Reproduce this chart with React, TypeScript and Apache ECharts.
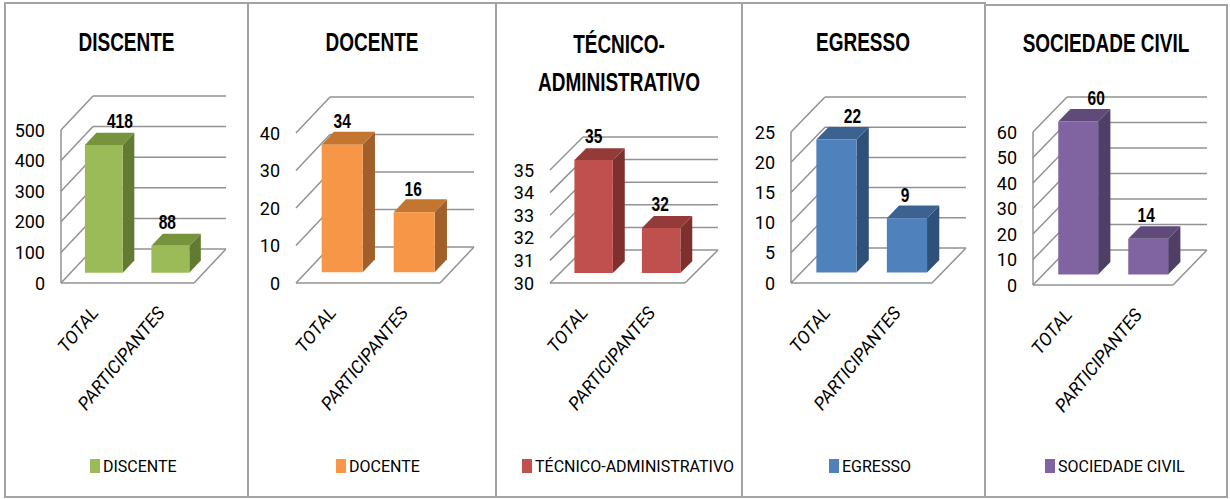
import React, { useEffect, useRef } from 'react';
import * as echarts from 'echarts';

const categories = ['TOTAL', 'PARTICIPANTES'];
const discenteValues = [418, 88];
const docenteValues = [34, 16];
const tecnicoValues = [35, 32];
const egressoValues = [22, 9];
const sociedadeValues = [60, 14];
const discenteTicks = [0, 100, 200, 300, 400, 500];
const docenteTicks = [0, 10, 20, 30, 40];
const tecnicoTicks = [30, 31, 32, 33, 34, 35];
const egressoTicks = [0, 5, 10, 15, 20, 25];
const sociedadeTicks = [0, 10, 20, 30, 40, 50, 60];

const FONT = "Roboto, 'Liberation Sans', sans-serif";
const BOLD_FONT = "'Liberation Sans', Arial, sans-serif";

const panels = [
  {
    name: 'DISCENTE', title: 'DISCENTE', values: discenteValues, ticks: discenteTicks,
    colors: { front: '#9bbb59', top: '#77933c', side: '#627a32' },
    box: [5, 248, 3], grid: { left: 61, width: 133, top: 130, height: 153 }, depth: [32, -34],
    wall: true, labelDx: [16, -3], legendX: 90, titleX: 126.5, titleY: 43,
  },
  {
    name: 'DOCENTE', title: 'DOCENTE', values: docenteValues, ticks: docenteTicks,
    colors: { front: '#f79646', top: '#c47631', side: '#a1602a' },
    box: [248, 496, 3], grid: { left: 296, width: 144, top: 133, height: 150 }, depth: [34, -36],
    wall: false, labelDx: [0, -1], legendX: 336, titleX: 372, titleY: 43,
  },
  {
    name: 'TÉCNICO-ADMINISTRATIVO', title: 'TÉCNICO-\nADMINISTRATIVO', values: tecnicoValues, ticks: tecnicoTicks,
    colors: { front: '#c0504d', top: '#943a38', side: '#7e302e' },
    box: [496, 742, 3], grid: { left: 550, width: 135, top: 170, height: 113 }, depth: [33, -33],
    wall: false, labelDx: [0, -1], legendX: 522, titleX: 619, titleY: 64,
  },
  {
    name: 'EGRESSO', title: 'EGRESSO', values: egressoValues, ticks: egressoTicks,
    colors: { front: '#4f81bd', top: '#3b6290', side: '#2f5078' },
    box: [742, 985, 3], grid: { left: 791, width: 141, top: 132, height: 151 }, depth: [34, -35],
    wall: true, labelDx: [16, -2], legendX: 829, titleX: 863, titleY: 43,
  },
  {
    name: 'SOCIEDADE CIVIL', title: 'SOCIEDADE CIVIL', values: sociedadeValues, ticks: sociedadeTicks,
    colors: { front: '#8064a2', top: '#5f4a79', side: '#4f3e66' },
    box: [985, 1227, 5], grid: { left: 1033, width: 140, top: 132, height: 153 }, depth: [34, -35],
    wall: true, labelDx: [18, -2], legendX: 1045, titleX: 1106, titleY: 44,
  },
];

const LINE = '#929292';

export default function App() {
  const ref = useRef<HTMLDivElement>(null);
  useEffect(() => {
    if (!ref.current) return;
    const chart = echarts.init(ref.current, null, { renderer: 'svg' });

    const grids: any[] = [];
    const xAxes: any[] = [];
    const yAxes: any[] = [];
    const series: any[] = [];
    const legends: any[] = [];
    const graphics: any[] = [];

    panels.forEach((p, k) => {
      const min = p.ticks[0];
      const max = p.ticks[p.ticks.length - 1];
      const interval = p.ticks[1] - p.ticks[0];
      const D = p.depth;
      grids.push({ left: p.grid.left, top: p.grid.top, width: p.grid.width, height: p.grid.height, containLabel: false });
      xAxes.push({
        type: 'category', gridIndex: k, data: categories, boundaryGap: true,
        axisLine: { show: false }, axisTick: { show: false }, splitLine: { show: false },
        axisLabel: { interval: 0, rotate: 51, margin: 26, fontSize: 18, fontStyle: 'italic', fontFamily: FONT, color: '#000' },
      });
      yAxes.push({
        type: 'value', gridIndex: k, min, max, interval,
        axisLine: { show: false }, axisTick: { show: false }, splitLine: { show: false },
        axisLabel: { margin: 16, fontSize: 18, fontFamily: FONT, color: '#000' },
      });
      // frame (walls, floor, gridlines)
      series.push({
        type: 'custom', name: p.name + '-frame', xAxisIndex: k, yAxisIndex: k, clip: false, silent: true,
        data: p.ticks.map((t) => [0, t]), encode: { x: 0, y: 1 }, z: 1,
        renderItem: (params: any, api: any) => {
          const t = api.value(1);
          const cs = params.coordSys;
          const y = api.coord([0, t])[1];
          const x0 = cs.x;
          const x1 = cs.x + cs.width;
          const st = { stroke: LINE, lineWidth: 1.5, fill: null };
          const children: any[] = [
            { type: 'line', shape: { x1: x0 + D[0], y1: y + D[1], x2: x1 + D[0], y2: y + D[1] }, style: st },
            { type: 'line', shape: { x1: x0, y1: y, x2: x0 + D[0], y2: y + D[1] }, style: st },
          ];
          if (t === min) {
            children.push({ type: 'line', shape: { x1: x0, y1: y, x2: x1, y2: y }, style: st });
            children.push({ type: 'line', shape: { x1: x1, y1: y, x2: x1 + D[0], y2: y + D[1] }, style: st });
          }
          if (t === max && p.wall) {
            children.push({ type: 'line', shape: { x1: x0, y1: y, x2: x0, y2: cs.y + cs.height }, style: st });
          }
          return { type: 'group', children };
        },
      });
      // 3D bars
      series.push({
        type: 'custom', name: p.name, xAxisIndex: k, yAxisIndex: k, clip: false, z: 2,
        itemStyle: { color: p.colors.front },
        data: p.values.map((v, i) => [i, v]), encode: { x: 0, y: 1 },
        renderItem: (params: any, api: any) => {
          const i = api.value(0);
          const v = api.value(1);
          const base = api.coord([i, min]);
          const top = api.coord([i, v]);
          const bw = api.size([1, 0])[0] * 0.57;
          const fx = D[0] * 0.3, fy = D[1] * 0.3;
          const dx = D[0] * 0.36, dy = D[1] * 0.36;
          const xl = base[0] - bw / 2 + fx;
          const xr = base[0] + bw / 2 + fx;
          const yb = base[1] + fy;
          const yt = top[1] + fy;
          return {
            type: 'group',
            children: [
              { type: 'polygon', shape: { points: [[xr, yb], [xr + dx, yb + dy], [xr + dx, yt + dy], [xr, yt]] }, style: { fill: p.colors.side } },
              { type: 'polygon', shape: { points: [[xl, yt], [xr, yt], [xr + dx, yt + dy], [xl + dx, yt + dy]] }, style: { fill: p.colors.top } },
              { type: 'rect', shape: { x: xl, y: yt, width: bw, height: yb - yt }, style: { fill: p.colors.front } },
              {
                type: 'text', x: (xl + xr) / 2 + p.labelDx[i], y: yt - 24, scaleX: 0.74,
                style: {
                  text: String(v), fill: '#000', fontSize: 21, fontWeight: 'bold', fontFamily: BOLD_FONT,
                  align: 'center', verticalAlign: 'middle', textAlign: 'center', textVerticalAlign: 'middle',
                },
              },
            ],
          };
        },
      });
      legends.push({
        data: [p.name], left: p.legendX, top: 458, padding: 0, icon: 'rect', itemWidth: 10, itemHeight: 14,
        selectedMode: false,
        textStyle: { fontSize: 16, fontFamily: FONT, color: '#000', padding: [0, 0, 0, -2] },
      });
      graphics.push({
        type: 'rect', shape: { x: p.box[0], y: p.box[2], width: p.box[1] - p.box[0], height: 497 - p.box[2] },
        style: { fill: null, stroke: '#a3a3a3', lineWidth: 2 }, z: 0, silent: true,
      });
      graphics.push({
        type: 'text', x: p.titleX, y: p.titleY, scaleX: 0.76, silent: true,
        style: {
          text: p.title, fill: '#000', fontSize: 25, fontWeight: 'bold', fontFamily: BOLD_FONT, lineHeight: 38,
          align: 'center', verticalAlign: 'middle', textAlign: 'center', textVerticalAlign: 'middle',
        },
      });
    });

    chart.setOption({
      animation: false,
      backgroundColor: '#fff',
      grid: grids,
      xAxis: xAxes,
      yAxis: yAxes,
      legend: legends,
      graphic: { elements: graphics },
      series,
    });
    return () => chart.dispose();
  }, []);
  return <div ref={ref} style={{ position: 'absolute', left: 0, top: 0, width: 1230, height: 499 }} />;
}
